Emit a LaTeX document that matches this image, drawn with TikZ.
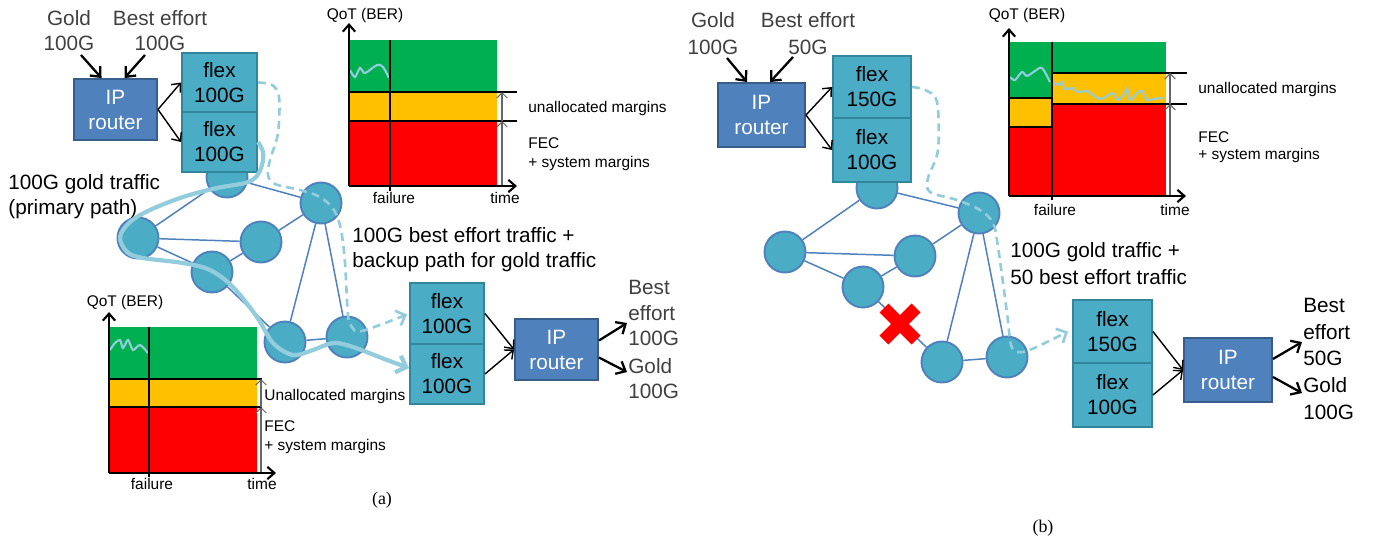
\documentclass[tikz,border=0pt]{standalone}
\usepackage{fontspec}
\setmainfont{Liberation Sans}
\newfontfamily\timesfont{Liberation Serif}
\usetikzlibrary{arrows.meta}
\pgfdeclarelayer{linklayer}
\pgfsetlayers{linklayer,main}
\definecolor{routerfill}{HTML}{4F81BD}
\definecolor{routerdraw}{HTML}{385D8A}
\definecolor{flexfill}{HTML}{4BACC6}
\definecolor{flexdraw}{HTML}{31859C}
\definecolor{pathblue}{HTML}{93CDDD}
\definecolor{edgeblue}{HTML}{4F81BD}
\definecolor{qgreen}{HTML}{00B050}
\definecolor{qyellow}{HTML}{FFC000}
\definecolor{qred}{HTML}{FF0000}
\definecolor{graytext}{HTML}{404040}
\tikzset{
  big/.style={font=\fontsize{11.8}{14.2}\selectfont, align=center, inner sep=0pt},
  bigl/.style={font=\fontsize{11.8}{14.2}\selectfont, align=left, inner sep=0pt, anchor=west},
  small/.style={font=\fontsize{8.8}{11.3}\selectfont, inner sep=0pt},
  smallw/.style={small, anchor=west},
  routerbox/.style={draw=routerdraw, fill=routerfill, line width=1.1pt, text=white, big},
  flexbox/.style={draw=flexdraw, fill=flexfill, line width=1.1pt, text=black, big},
  netnode/.style={circle, draw=edgeblue, fill=flexfill, line width=1.1pt, minimum size=0.82cm, inner sep=0pt},
  link/.style={draw=edgeblue, line width=0.85pt},
  arrthick/.style={draw=black, line width=1.3pt, -{Straight Barb[length=4.5pt,width=8pt]}},
  arrthin/.style={draw=black, line width=0.8pt, -{Straight Barb[length=4pt,width=7pt]}},
  axisarr/.style={draw=black, line width=1.2pt, -{Straight Barb[length=4pt,width=7pt]}},
  marginarr/.style={draw=black!60, line width=0.6pt, -{Straight Barb[length=3pt,width=6pt]}},
  bandline/.style={draw=black, line width=0.6pt},
  failline/.style={draw=black, line width=1.2pt},
  wave/.style={draw=pathblue, line width=1.2pt},
  goldpath/.style={draw=pathblue, line width=2.4pt, -{Straight Barb[length=5pt,width=10pt]}},
  backuppath/.style={draw=pathblue, line width=1.5pt, dash pattern=on 4.5pt off 3pt, -{Straight Barb[length=4.5pt,width=9pt]}},
  redx/.style={draw=qred, line width=7.2pt},
}
\begin{document}
\begin{tikzpicture}[x=0.02cm,y=-0.02cm]
\useasboundingbox (0,0) rectangle (1380,542);

%================ PANEL (a) ================
% --- chart top ---
\fill[qgreen] (349,40) rectangle (497,92);
\fill[qyellow] (349,92) rectangle (497,121);
\fill[qred] (349,121) rectangle (497,185);
\draw[bandline] (349,92) -- (517,92);
\draw[bandline] (349,121) -- (517,121);
\draw[wave] plot[smooth] coordinates {(350,70)(355,77)(360,68)(365,73)(377,65)(383,67)(389,78)};
\draw[failline] (390,40) -- (390,191);
\draw[marginarr] (502,185) -- (502,121);
\draw[marginarr] (502,121) -- (502,92);
\coordinate (axA0) at (349,186);
\coordinate (axAy) at (349,23);
\coordinate (axAx) at (517,186);
\draw[axisarr] (axA0) -- (axAy);
\draw[axisarr] (axA0) -- (axAx);
\node[small] (qotA) at (365,15) {QoT (BER)};
\node[smallw] (unA) at (528,108) {unallocated margins};
\node[smallw] (fecA) at (528,143) {FEC};
\node[smallw] (sysA) at (528,163) {+ system margins};
\node[small] (failA) at (394,198) {failure};
\node[small] (timeA) at (505,198) {time};

% --- chart bottom ---
\fill[qgreen] (109,327) rectangle (257,379);
\fill[qyellow] (109,379) rectangle (257,407);
\fill[qred] (109,407) rectangle (257,472);
\draw[bandline] (109,379) -- (262,379);
\draw[bandline] (109,407) -- (262,407);
\draw[wave] plot[smooth] coordinates {(110,350)(115,343)(120,340)(123,348)(128,340)(133,350)(140,345)(148,353)};
\draw[failline] (149,327) -- (149,477);
\draw[marginarr] (261,472) -- (261,407);
\draw[marginarr] (261,407) -- (261,379);
\coordinate (axB0) at (109,473);
\coordinate (axBy) at (109,312);
\coordinate (axBx) at (276,473);
\draw[axisarr] (axB0) -- (axBy);
\draw[axisarr] (axB0) -- (axBx);
\node[small] (qotB) at (125,302) {QoT (BER)};
\node[smallw] (unB) at (264,396) {Unallocated margins};
\node[smallw] (fecB) at (264,426) {FEC};
\node[smallw] (sysB) at (264,446) {+ system margins};
\node[small] (failB) at (152,484) {failure};
\node[small] (timeB) at (262,484) {time};
\node[inner sep=0pt, font=\timesfont\fontsize{10.2}{12}\selectfont] (capA) at (382,500) {(a)};

% --- network (a) ---
\node[netnode] (n1) at (227,177) {};
\node[netnode] (n2) at (138,238) {};
\node[netnode] (n3) at (261,242) {};
\node[netnode] (n4) at (212,272) {};
\node[netnode] (n5) at (321,203) {};
\node[netnode] (n6) at (285,342) {};
\node[netnode] (n7) at (347,337) {};
\begin{pgfonlayer}{linklayer}
\draw[link] (n1) -- (n2);
\draw[link] (n1) -- (n5);
\draw[link] (n2) -- (n3);
\draw[link] (n2) -- (n4);
\draw[link] (n3) -- (n4);
\draw[link] (n3) -- (n5);
\draw[link] (n4) -- (n6);
\draw[link] (n5) -- (n6);
\draw[link] (n5) -- (n7);
\draw[link] (n6) -- (n7);
\end{pgfonlayer}

% --- boxes (a) ---
\node[routerbox, minimum width=1.66cm, minimum height=1.22cm] (rA) at (115.5,109.5) {IP\\router};
\node[flexbox, minimum width=1.5cm, minimum height=1.18cm] (fA1) at (219.5,82.5) {flex\\100G};
\node[flexbox, minimum width=1.5cm, minimum height=1.2cm] (fA2) at (219.5,142) {flex\\100G};
\node[flexbox, minimum width=1.48cm, minimum height=1.22cm] (fA3) at (447,313.5) {flex\\100G};
\node[flexbox, minimum width=1.48cm, minimum height=1.2cm] (fA4) at (447,374) {flex\\100G};
\node[routerbox, minimum width=1.66cm, minimum height=1.22cm] (rA2) at (556.5,349.5) {IP\\router};

\node[big, text=graytext] (goldA) at (69,30.5) {Gold\\100G};
\node[big, text=graytext] (beA) at (160,30.5) {Best effort\\100G};
\coordinate (goldAin) at (81,55);
\coordinate (beAin) at (145,55);
\draw[arrthick] (goldAin) -- ([shift={(-14,0)}]rA.north);
\draw[arrthick] (beAin) -- ([shift={(9,0)}]rA.north);
\draw[arrthin] (rA.east) -- (fA1.west);
\draw[arrthin] (rA.east) -- (fA2.west);
\draw[arrthin] (fA3.east) -- (rA2.west);
\draw[arrthin] (fA4.east) -- (rA2.west);
\coordinate (beAout) at (627,323);
\coordinate (goldAout) at (627,372);
\draw[arrthick] ([shift={(0,-9)}]rA2.east) -- (beAout);
\draw[arrthick] ([shift={(0,8)}]rA2.east) -- (goldAout);
\node[bigl, text=graytext, font=\fontsize{11.8}{14.7}\selectfont] (beAt) at (628,313) {Best\\effort\\100G};
\node[bigl, text=graytext, font=\fontsize{11.8}{14.7}\selectfont] (goldAt) at (628,378.5) {Gold\\100G};

\node[bigl] (lblGold) at (8,197) {100G gold traffic\\(primary path)};
\node[bigl] (lblBack) at (352,250) {100G best effort traffic +\\backup path for gold traffic};

% --- paths (a) ---
\draw[goldpath] plot[smooth, tension=0.55] coordinates {(fA2.east)(263,152)(262,165)(256,177)(245,183)(217,188)(183,197)(150,210)(130,222)(120,237)(127,252)(143,258)(183,263)(210,270)(233,287)(257,317)(273,343)(293,355)(313,350)(333,343)(353,347)(387,360)([shift={(0,-6)}]fA4.west)};
\draw[backuppath] plot[smooth, tension=0.55] coordinates {(fA1.east)(272,85)(279,97)(278,133)(270,160)(268,175)(275,184)(300,190)(320,197)(334,210)(341,230)(345,263)(348,315)(352,327)(362,331)([shift={(-2,1)}]fA3.west)};

%================ PANEL (b) ================
% --- chart ---
\fill[qgreen] (1009,42) rectangle (1052,98);
\fill[qyellow] (1009,98) rectangle (1052,127);
\fill[qred] (1009,127) rectangle (1052,195);
\fill[qgreen] (1052,42) rectangle (1166,73);
\fill[qyellow] (1052,73) rectangle (1166,104);
\fill[qred] (1052,104) rectangle (1166,195);
\draw[bandline] (1009,98) -- (1052,98);
\draw[bandline] (1009,127) -- (1052,127);
\draw[bandline] (1052,73) -- (1187,73);
\draw[bandline] (1052,104) -- (1187,104);
\draw[wave] plot[smooth] coordinates {(1010,77)(1015,80)(1022,72)(1027,76)(1035,71)(1042,68)(1050,82)};
\draw[wave] plot[smooth] coordinates {(1053,82)(1058,85)(1062,82)(1065,89)(1072,88)(1078,92)(1087,91)(1093,95)(1100,99)(1107,96)(1113,93)(1118,100)(1125,93)(1127,88)(1130,100)(1137,93)(1142,91)(1147,100)(1153,99)(1163,98)};
\draw[failline] (1052,42) -- (1052,200);
\draw[marginarr] (1170,195) -- (1170,104);
\draw[marginarr] (1170,104) -- (1170,73);
\coordinate (axC0) at (1009,196);
\coordinate (axCy) at (1009,28);
\coordinate (axCx) at (1186,196);
\draw[axisarr] (axC0) -- (axCy);
\draw[axisarr] (axC0) -- (axCx);
\node[small] (qotC) at (1027,15) {QoT (BER)};
\node[smallw] (unC) at (1198,89) {unallocated margins};
\node[smallw] (fecC) at (1198,137) {FEC};
\node[smallw] (sysC) at (1198,155) {+ system margins};
\node[small] (failC) at (1055,210) {failure};
\node[small] (timeC) at (1175,210) {time};
\node[inner sep=0pt, font=\timesfont\fontsize{10.2}{12}\selectfont] (capB) at (1043,528) {(b)};

% --- network (b) ---
\node[netnode] (m1) at (877,188) {};
\node[netnode] (m2) at (785,252) {};
\node[netnode] (m3) at (915,256) {};
\node[netnode] (m4) at (863,287) {};
\node[netnode] (m5) at (979,213) {};
\node[netnode] (m6) at (942,362) {};
\node[netnode] (m7) at (1007,357) {};
\begin{pgfonlayer}{linklayer}
\draw[link] (m1) -- (m2);
\draw[link] (m1) -- (m5);
\draw[link] (m2) -- (m3);
\draw[link] (m2) -- (m4);
\draw[link] (m3) -- (m4);
\draw[link] (m3) -- (m5);
\draw[link] (m4) -- (m6);
\draw[link] (m5) -- (m6);
\draw[link] (m5) -- (m7);
\draw[link] (m6) -- (m7);
\end{pgfonlayer}
\coordinate (xc) at (900,324);
\draw[redx] ([shift={(-16,-16)}]xc) -- ([shift={(16,16)}]xc);
\draw[redx] ([shift={(-16,16)}]xc) -- ([shift={(16,-16)}]xc);

% --- boxes (b) ---
\node[routerbox, minimum width=1.74cm, minimum height=1.28cm] (rB) at (761.5,115) {IP\\router};
\node[flexbox, minimum width=1.56cm, minimum height=1.24cm] (fB1) at (872,87) {flex\\150G};
\node[flexbox, minimum width=1.56cm, minimum height=1.28cm] (fB2) at (872,150) {flex\\100G};
\node[flexbox, minimum width=1.58cm, minimum height=1.26cm] (fB3) at (1112.5,331.5) {flex\\150G};
\node[flexbox, minimum width=1.58cm, minimum height=1.28cm] (fB4) at (1112.5,395) {flex\\100G};
\node[routerbox, minimum width=1.76cm, minimum height=1.28cm] (rB2) at (1228,370) {IP\\router};

\node[big, text=graytext, font=\fontsize{11.8}{15.3}\selectfont] (goldB) at (713,33.5) {Gold\\100G};
\node[big, text=graytext, font=\fontsize{11.8}{15.3}\selectfont] (beB) at (808,33.5) {Best effort\\50G};
\coordinate (goldBin) at (727,58);
\coordinate (beBin) at (793,57);
\draw[arrthick] (goldBin) -- ([shift={(-14.5,0)}]rB.north);
\draw[arrthick] (beBin) -- ([shift={(8.5,0)}]rB.north);
\draw[arrthin] (rB.east) -- (fB1.west);
\draw[arrthin] (rB.east) -- (fB2.west);
\draw[arrthin] (fB3.east) -- (rB2.west);
\draw[arrthin] (fB4.east) -- (rB2.west);
\coordinate (beBout) at (1302,342);
\coordinate (goldBout) at (1302,393);
\draw[arrthick] ([shift={(0,-11)}]rB2.east) -- (beBout);
\draw[arrthick] ([shift={(0,7)}]rB2.east) -- (goldBout);
\node[bigl, font=\fontsize{11.8}{15.3}\selectfont] (beBt) at (1303,332) {Best\\effort\\50G};
\node[bigl, font=\fontsize{11.8}{15.3}\selectfont] (goldBt) at (1303,399) {Gold\\100G};

\node[bigl, font=\fontsize{11.8}{15.3}\selectfont] (lblB) at (1010,263.5) {100G gold traffic +\\50 best effort traffic};

% --- path (b) ---
\draw[backuppath] plot[smooth, tension=0.55] coordinates {(fB1.east)(925,90)(937,102)(938,150)(928,178)(930,192)(957,200)(980,210)(993,223)(998,247)(1007,313)(1011,345)(1018,352)(1032,349)([shift={(-4,0)}]fB3.west)};
\end{tikzpicture}
\end{document}
